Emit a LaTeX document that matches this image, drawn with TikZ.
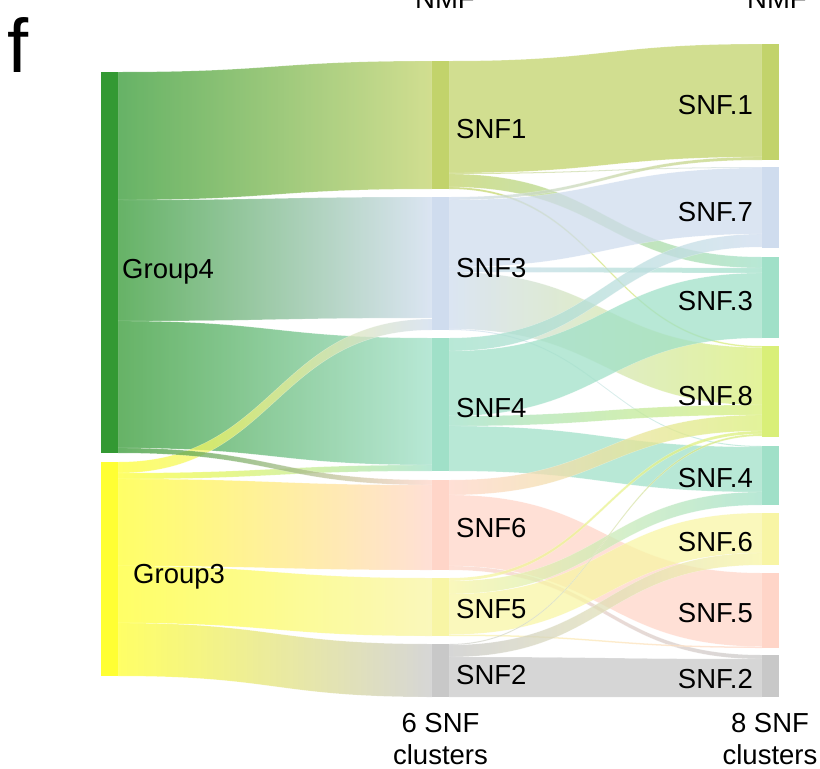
\documentclass[tikz,border=0pt]{standalone}
\usepackage{fontspec}
\setmainfont{Liberation Sans}

% node colours
\definecolor{cGfour}{HTML}{339933}
\definecolor{cGthree}{HTML}{FFFF33}
\definecolor{cOlive}{HTML}{C2D36B}
\definecolor{cBlue}{HTML}{CFDCEE}
\definecolor{cMint}{HTML}{A0E0C8}
\definecolor{cLime}{HTML}{D9EF78}
\definecolor{cPeach}{HTML}{FFD5C8}
\definecolor{cCream}{HTML}{F8F5A5}
\definecolor{cGrey}{HTML}{C8C8C8}

% flow band from the group column (x=118) to the 6-cluster column (x=432)
% #1,#2 top/bottom at source, #3,#4 top/bottom at target, #5,#6 colours
\newcommand\linkL[6]{\path[flow,left color=#5,right color=#6]
  (118,#1) .. controls (275,#1) and (275,#3) .. (432,#3) -- (432,#4)
  .. controls (275,#4) and (275,#2) .. (118,#2) -- cycle;}
% flow band from the 6-cluster column (x=449) to the 8-cluster column (x=762)
\newcommand\linkR[6]{\path[flow,left color=#5,right color=#6]
  (449,#1) .. controls (605.5,#1) and (605.5,#3) .. (762,#3) -- (762,#4)
  .. controls (605.5,#4) and (605.5,#2) .. (449,#2) -- cycle;}

\begin{document}
\begin{tikzpicture}[x=1pt,y=-1pt,
  flow/.style={fill opacity=0.75,draw=white,draw opacity=0.35,line width=0.4pt},
  bar/.style={rectangle,inner sep=0pt,outer sep=0pt,minimum width=17pt},
  lab/.style={font=\fontsize{27.5}{33}\selectfont,inner sep=0pt,text=black}]
\useasboundingbox (0,0) rectangle (820,769);
\clip (0,0) rectangle (820,769);

% groups -> 6 clusters
\linkL{72}{200}{61}{189}{cGfour}{cOlive}
\linkL{200}{321}{197}{318}{cGfour}{cBlue}
\linkL{321}{448}{338}{465}{cGfour}{cMint}
\linkL{462}{473}{319}{330}{cGthree}{cBlue}
\linkL{473}{479}{465}{471}{cGthree}{cMint}
\linkL{448}{453}{480}{485}{cGfour}{cPeach}
\linkL{479}{566}{485}{570}{cGthree}{cPeach}
\linkL{566}{623}{578}{636}{cGthree}{cCream}
\linkL{623}{676}{644}{697}{cGthree}{cGrey}

% 6 clusters -> 8 clusters
\linkR{61}{173}{44}{157}{cOlive}{cOlive}
\linkR{173}{174}{167}{168}{cOlive}{cBlue}
\linkR{174}{187}{257}{268}{cOlive}{cMint}
\linkR{187}{189}{346}{347.5}{cOlive}{cLime}
\linkR{197}{200}{157}{160}{cBlue}{cOlive}
\linkR{200}{267}{168}{234}{cBlue}{cBlue}
\linkR{267}{272}{268}{273}{cBlue}{cMint}
\linkR{272}{329}{347.5}{405}{cBlue}{cLime}
\linkR{329}{330}{446}{447}{cBlue}{cMint}
\linkR{338}{351}{234}{247}{cMint}{cBlue}
\linkR{351}{416}{273}{338}{cMint}{cMint}
\linkR{416}{426}{405}{415}{cMint}{cLime}
\linkR{426}{471}{447}{492}{cMint}{cMint}
\linkR{480}{495}{415}{431}{cPeach}{cLime}
\linkR{495}{566}{573}{646.5}{cPeach}{cPeach}
\linkR{566}{570}{655}{659}{cPeach}{cGrey}
\linkR{578}{581}{431}{434}{cCream}{cLime}
\linkR{581}{594}{492}{505}{cCream}{cMint}
\linkR{594}{634.5}{513}{553}{cCream}{cCream}
\linkR{634.5}{636}{646.5}{648}{cCream}{cPeach}
\linkR{644}{645}{434}{436}{cGrey}{cLime}
\linkR{645}{657}{553}{565}{cGrey}{cCream}
\linkR{657}{697}{659}{697}{cGrey}{cGrey}

% node bars
\node[bar,fill=cGfour,minimum height=381pt] (g4) at (109.5,262.5) {};
\node[bar,fill=cGthree,minimum height=214pt] (g3) at (109.5,569) {};
\node[bar,fill=cOlive,minimum height=128pt] (m1) at (440.5,125) {};
\node[bar,fill=cBlue,minimum height=133pt] (m3) at (440.5,263.5) {};
\node[bar,fill=cMint,minimum height=133pt] (m4) at (440.5,404.5) {};
\node[bar,fill=cPeach,minimum height=90pt] (m6) at (440.5,525) {};
\node[bar,fill=cCream,minimum height=58pt] (m5) at (440.5,607) {};
\node[bar,fill=cGrey,minimum height=53pt] (m2) at (440.5,670.5) {};
\node[bar,fill=cOlive,minimum height=116pt] (r1) at (770.5,102) {};
\node[bar,fill=cBlue,minimum height=81pt] (r7) at (770.5,207.5) {};
\node[bar,fill=cMint,minimum height=81pt] (r3) at (770.5,297.5) {};
\node[bar,fill=cLime,minimum height=91pt] (r8) at (770.5,391.5) {};
\node[bar,fill=cMint,minimum height=59pt] (r4) at (770.5,475.5) {};
\node[bar,fill=cCream,minimum height=52pt] (r6) at (770.5,539) {};
\node[bar,fill=cPeach,minimum height=75pt] (r5) at (770.5,610.5) {};
\node[bar,fill=cGrey,minimum height=42pt] (r2) at (770.5,676) {};

% labels
\node[lab,anchor=base west] (lg4) at (122,278) {Group4};
\node[lab,anchor=base west] (lg3) at (133,583) {Group3};
\node[lab,anchor=base west] (lm1) at (456,138) {SNF1};
\node[lab,anchor=base west] (lm3) at (456,277) {SNF3};
\node[lab,anchor=base west] (lm4) at (456,417) {SNF4};
\node[lab,anchor=base west] (lm6) at (456,537) {SNF6};
\node[lab,anchor=base west] (lm5) at (456,618) {SNF5};
\node[lab,anchor=base west] (lm2) at (456,684) {SNF2};
\node[lab,anchor=base east] (lr1) at (753,114) {SNF.1};
\node[lab,anchor=base east] (lr7) at (753,221) {SNF.7};
\node[lab,anchor=base east] (lr3) at (753,310) {SNF.3};
\node[lab,anchor=base east] (lr8) at (753,405) {SNF.8};
\node[lab,anchor=base east] (lr4) at (753,487) {SNF.4};
\node[lab,anchor=base east] (lr6) at (753,551) {SNF.6};
\node[lab,anchor=base east] (lr5) at (753,622) {SNF.5};
\node[lab,anchor=base east] (lr2) at (753,688) {SNF.2};

% column headings (running off the top edge) and footers
\node[lab,anchor=base] (hm) at (445,8) {NMF};
\node[lab,anchor=base] (hr) at (777,8) {NMF};
\node[lab,anchor=base] (fm1) at (440.5,732) {6 SNF};
\node[lab,anchor=base] (fm2) at (440.5,764) {clusters};
\node[lab,anchor=base] (fr1) at (770,732) {8 SNF};
\node[lab,anchor=base] (fr2) at (770,764) {clusters};

% panel letter
\node[anchor=base west,inner sep=0pt,font=\fontsize{76}{76}\selectfont] (panel) at (7,72) {f};
\end{tikzpicture}
\end{document}
